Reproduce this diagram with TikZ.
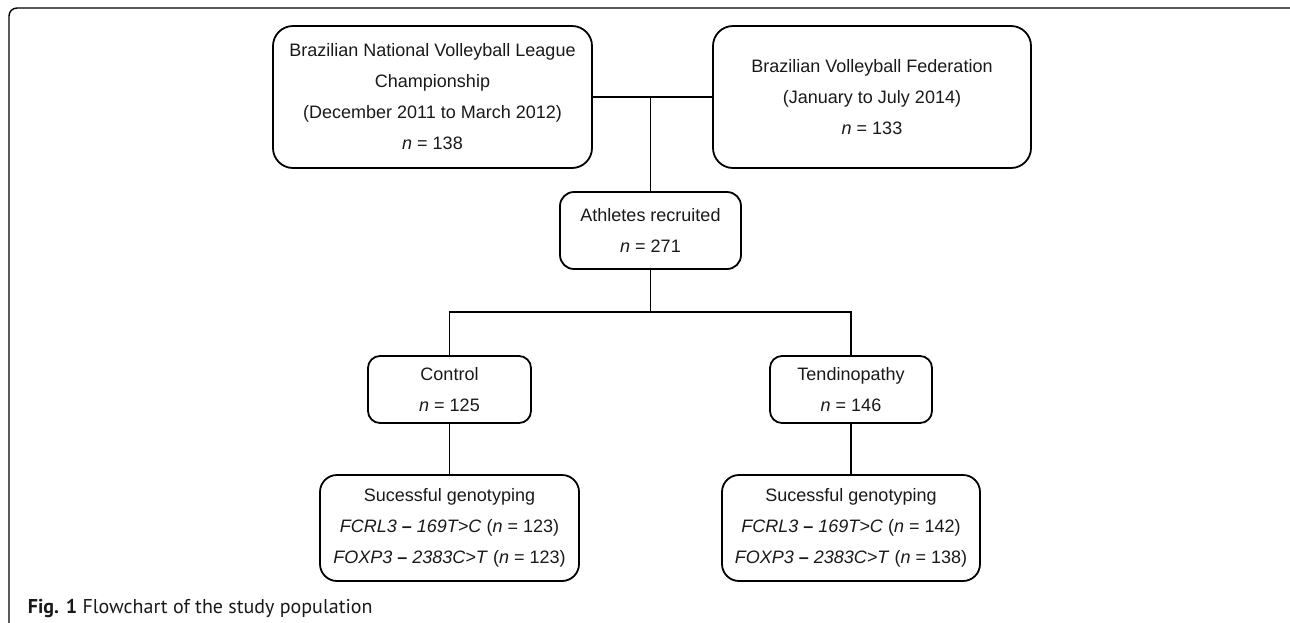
\documentclass[tikz,border=0pt]{standalone}
\usepackage{fontspec}
\setmainfont{Liberation Sans}
\newfontfamily\capfont{PT Sans}
\begin{document}
\begin{tikzpicture}[x=1pt,y=-1pt,line width=1.8pt]
  \tikzset{block/.style={shape=rectangle,text centered,align=center,rounded corners=14pt,draw,inner sep=0pt,
      font=\fontsize{18}{31}\selectfont,text=black!90}};
  \useasboundingbox (0,0) rectangle (1290,622);
  \begin{scope}
    \clip (0,0) rectangle (1290,622);
    \draw[line width=1.4pt,rounded corners=8pt] (9,8) rectangle (1300,640);
  \end{scope}
  \node[block,rounded corners=20pt,minimum width=319pt,minimum height=142pt](BNVL) at (432.5,97)
    {Brazilian National Volleyball League\\Championship\\(December 2011 to March 2012)\\\textit{n} = 138};
  \node[block,rounded corners=20pt,minimum width=318pt,minimum height=142pt](BVF) at (872,97)
    {Brazilian Volleyball Federation\\(January to July 2014)\\\textit{n} = 133};
  \node[block,minimum width=181pt,minimum height=77pt](Ath) at (650.5,230.5){Athletes recruited\\\textit{n} = 271};
  \node[block,rounded corners=12pt,minimum width=163pt,minimum height=67pt](Ctrl) at (449.5,389.5){Control\\\textit{n} = 125};
  \node[block,rounded corners=12pt,minimum width=162pt,minimum height=67pt](Tend) at (851,389.5){Tendinopathy\\\textit{n} = 146};
  \node[block,rounded corners=17pt,minimum width=259pt,minimum height=106pt](GenC) at (449.5,528)
    {Sucessful genotyping\\\textit{FCRL3} \textbf{--} \textit{169T>C} (\textit{n} = 123)\\\textit{FOXP3} \textbf{--} \textit{2383C>T} (\textit{n} = 123)};
  \node[block,rounded corners=17pt,minimum width=258pt,minimum height=106pt](GenT) at (851,528)
    {Sucessful genotyping\\\textit{FCRL3} \textbf{--} \textit{169T>C} (\textit{n} = 142)\\\textit{FOXP3} \textbf{--} \textit{2383C>T} (\textit{n} = 138)};
  \coordinate (split) at (650.5,312);
  \draw (BNVL.east) -- (BVF.west) (Ath.north) -- (Ath.north |- BNVL.east);
  \draw (Ath.south) -- (split) (Ctrl.north) |- (split) -| (Tend.north);
  \draw (Ctrl) -- (GenC) (Tend) -- (GenT);
  \node[anchor=base west,inner sep=0pt,text=black!90](Cap) at (27,613)
    {\capfont\fontsize{20}{24}\selectfont\textbf{Fig. 1} Flowchart of the study population};
\end{tikzpicture}
\end{document}
